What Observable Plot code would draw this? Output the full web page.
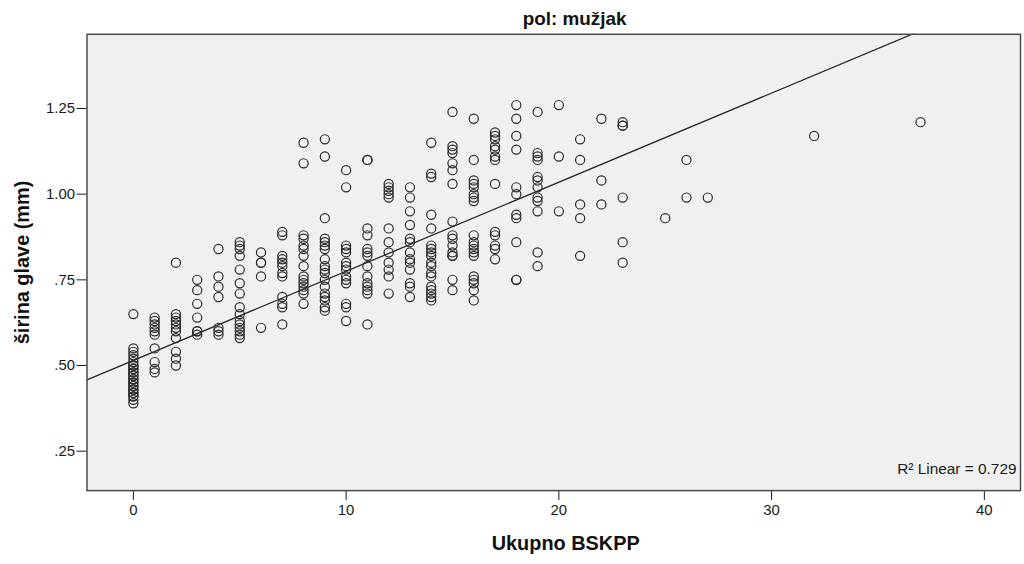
<!DOCTYPE html>
<html><head><meta charset="utf-8">
<script src="https://cdn.jsdelivr.net/npm/d3@7"></script>
<script src="https://cdn.jsdelivr.net/npm/@observablehq/plot@0.6"></script>
<style>
html,body{margin:0;padding:0;background:#fff;overflow:hidden;}
#chart{width:1024px;height:564px;overflow:hidden;}
</style></head><body><div id="chart"></div>
<script>
// Ukupno BSKPP (x) values of each column of points
const bskppValues = [0,1,2,3,4,5,6,7,8,9,10,11,12,13,14,15,16,17,18,19,20,21,22,23,25,26,27,32,37];
// širina glave (mm) values in each column
const sirinaGlave = [
  [0.65,0.55,0.54,0.53,0.52,0.51,0.50,0.50,0.49,0.49,0.48,0.48,0.47,0.47,0.46,0.46,0.45,0.45,0.44,0.44,0.43,0.43,0.42,0.42,0.41,0.41,0.40,0.39],
  [0.64,0.63,0.62,0.61,0.60,0.59,0.55,0.51,0.49,0.48],
  [0.80,0.65,0.64,0.63,0.62,0.61,0.60,0.58,0.54,0.52,0.50],
  [0.75,0.72,0.68,0.64,0.60,0.59,0.60],
  [0.84,0.76,0.73,0.70,0.61,0.60,0.59],
  [0.86,0.85,0.84,0.82,0.78,0.74,0.71,0.67,0.65,0.63,0.62,0.61,0.60,0.59,0.58],
  [0.83,0.80,0.80,0.76,0.61],
  [0.89,0.88,0.82,0.81,0.80,0.79,0.77,0.76,0.70,0.68,0.67,0.62],
  [1.15,1.09,0.88,0.87,0.85,0.84,0.82,0.79,0.76,0.75,0.74,0.73,0.72,0.71,0.68],
  [1.16,1.11,0.93,0.87,0.86,0.85,0.84,0.81,0.79,0.78,0.77,0.75,0.73,0.71,0.70,0.69,0.67,0.66],
  [1.07,1.02,0.85,0.84,0.83,0.80,0.79,0.78,0.76,0.75,0.74,0.68,0.67,0.63],
  [1.10,1.10,0.90,0.88,0.84,0.83,0.82,0.79,0.76,0.74,0.73,0.72,0.71,0.62],
  [1.03,1.02,1.01,1.00,0.99,0.90,0.86,0.83,0.80,0.78,0.76,0.71],
  [1.02,0.99,0.95,0.91,0.87,0.86,0.83,0.81,0.80,0.78,0.74,0.73,0.70],
  [1.15,1.06,1.05,0.94,0.90,0.85,0.84,0.83,0.82,0.80,0.79,0.77,0.76,0.73,0.72,0.71,0.70,0.69],
  [1.24,1.14,1.13,1.12,1.09,1.07,1.03,0.92,0.88,0.87,0.85,0.83,0.82,0.82,0.75,0.72],
  [1.22,1.10,1.04,1.03,1.02,1.00,0.99,0.98,0.88,0.86,0.85,0.84,0.83,0.82,0.76,0.75,0.74,0.72,0.69],
  [1.18,1.17,1.16,1.14,1.13,1.11,1.10,1.03,0.89,0.88,0.85,0.84,0.81],
  [1.26,1.22,1.17,1.13,1.02,1.00,0.94,0.93,0.86,0.75,0.75],
  [1.24,1.12,1.11,1.10,1.05,1.04,1.02,0.99,0.98,0.95,0.83,0.79],
  [1.26,1.11,0.95],
  [1.16,1.10,0.97,0.93,0.82],
  [1.22,1.04,0.97],
  [1.21,1.20,1.20,0.99,0.86,0.80],
  [0.93],
  [1.10,0.99],
  [0.99],
  [1.17],
  [1.21]
];
// fitted linear regression
const fitIntercept = 0.515;
const fitSlope = 0.026;
const rSquaredLabel = "R² Linear = 0.729";
// axes
const xDomain = [-2.18, 41.7];
const yDomain = [0.135, 1.4665];
const xTicks = [0, 10, 20, 30, 40];
const yTicks = [0.25, 0.50, 0.75, 1.00, 1.25];
const titleText = "pol: mužjak";
const xLabel = "Ukupno BSKPP";
const yLabel = "širina glave (mm)";

const points = bskppValues.flatMap((x, i) => sirinaGlave[i].map(y => ({x, y})));
const fitPoints = xDomain.map(x => ({x, y: fitIntercept + fitSlope * x}));
const font = "'Liberation Sans', Arial, Helvetica, sans-serif";

const plot = Plot.plot({
  width: 1030, height: 564,
  marginLeft: 87, marginRight: 4, marginTop: 34, marginBottom: 71,
  style: {fontFamily: font, fontSize: "15px", color: "#1a1a1a", background: "#fff", overflow: "visible"},
  x: {domain: xDomain, ticks: xTicks, tickSize: 10, tickPadding: 4, label: null},
  y: {domain: yDomain, ticks: yTicks, tickSize: 10, tickPadding: 2, label: null,
      tickFormat: d => d3.format(".2f")(d).replace(/^0/, "")},
  marks: [
    Plot.frame({fill: "#f0f0f0"}),
    Plot.line(fitPoints, {x: "x", y: "y", stroke: "#262626", strokeWidth: 1.3, clip: true}),
    Plot.dot(points, {x: "x", y: "y", r: 4.6, stroke: "#2a2a2a", strokeWidth: 1.2, fill: "none"}),
    Plot.frame({stroke: "#4a4a4a", strokeWidth: 1.5}),
    Plot.text([rSquaredLabel], {text: d => d, frameAnchor: "bottom-right", textAnchor: "end", lineAnchor: "middle", dx: -4, dy: -22, fontSize: 15.5, fill: "#1a1a1a"}),
    Plot.text([titleText], {text: d => d, frameAnchor: "top", textAnchor: "middle", lineAnchor: "middle", dx: 21, dy: -15, fontSize: 19, fontWeight: "bold", fill: "#111"}),
    Plot.text([xLabel], {text: d => d, frameAnchor: "bottom", textAnchor: "middle", lineAnchor: "middle", dx: 12, dy: 53, fontSize: 20, fontWeight: "bold", fill: "#111"}),
    Plot.text([yLabel], {text: d => d, frameAnchor: "left", textAnchor: "middle", lineAnchor: "middle", rotate: -90, dx: -65, fontSize: 20, fontWeight: "bold", fill: "#111"})
  ]
});
document.getElementById("chart").appendChild(plot);
</script>
</body></html>
